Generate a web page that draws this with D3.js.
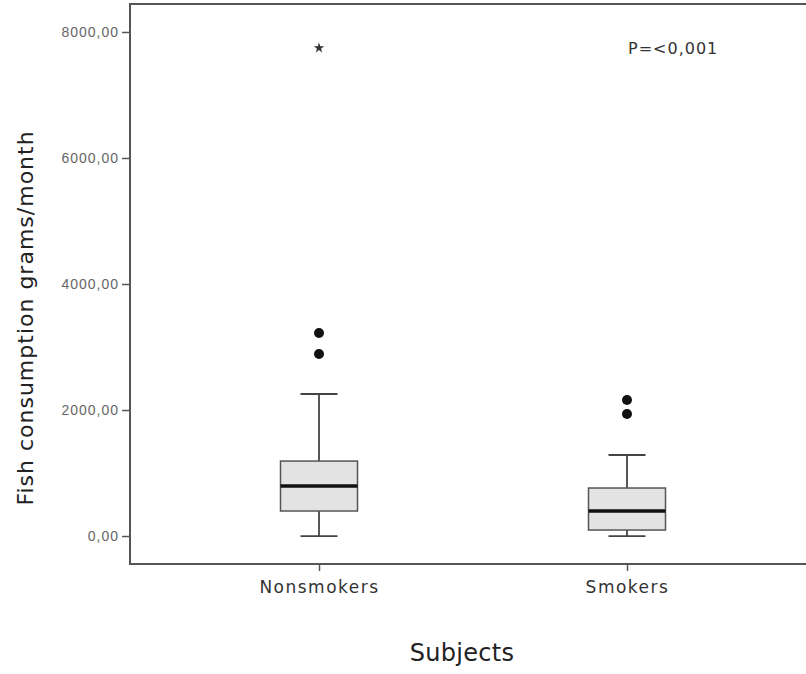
<!DOCTYPE html>
<html>
<head>
<meta charset="utf-8">
<script src="https://cdn.jsdelivr.net/npm/d3@7"></script>
<style>
  html, body { margin: 0; padding: 0; background: #fff; }
  svg { display: block; font-family: "DejaVu Sans", sans-serif; }
</style>
</head>
<body>
<svg id="chart" width="806" height="674"></svg>
<script>
// Box plot values (grams/month)
const groups = ['Nonsmokers', 'Smokers'];
const q1 = [397, 95];
const median = [794, 397];
const q3 = [1190, 762];
const whiskerLow = [0, 0];
const whiskerHigh = [2254, 1286];
const outliers = [[3222, 2889], [2159, 1937]];
const extremes = [[7746], []];
const yTicks = [0, 2000, 4000, 6000, 8000];

const frame = { left: 130, top: 4, bottom: 564, right: 812 };
const lineColor = '#555';

const svg = d3.select('#chart');

const y = d3.scaleLinear().domain([-444, 8444]).range([frame.bottom, frame.top]);
const x = d3.scalePoint().domain(groups).range([319, 627]);
const boxHalf = 38.5;
const capHalf = 18.5;

// Frame (open on the right, as in the original)
svg.append('path')
  .attr('d', `M${frame.right},${frame.top}H${frame.left}V${frame.bottom}H${frame.right}`)
  .attr('fill', 'none')
  .attr('stroke', lineColor)
  .attr('stroke-width', 2);

// Y axis
svg.append('g')
  .attr('transform', `translate(${frame.left},0)`)
  .call(d3.axisLeft(y).tickValues(yTicks).tickSize(8).tickPadding(3)
    .tickFormat((d) => d3.format('.2f')(d).replace('.', ',')))
  .call((axis) => {
    axis.select('.domain').remove();
    axis.selectAll('.tick line').attr('stroke', lineColor).attr('stroke-width', 1.5);
    axis.selectAll('.tick text')
      .attr('fill', '#666')
      .attr('font-size', '14px')
      .attr('letter-spacing', '1px')
      .attr('font-family', '"Liberation Sans", Arial, sans-serif');
  });

// X axis
svg.append('g')
  .attr('transform', `translate(0,${frame.bottom})`)
  .call(d3.axisBottom(x).tickSize(7).tickPadding(10))
  .call((axis) => {
    axis.select('.domain').remove();
    axis.selectAll('.tick line').attr('stroke', lineColor).attr('stroke-width', 1.5);
    axis.selectAll('.tick text')
      .attr('fill', '#333')
      .attr('font-size', '17px')
      .attr('letter-spacing', '1.5px')
      .attr('font-family', '"DejaVu Sans", sans-serif');
  });

// Boxes
const g = svg.append('g');
groups.forEach((name, i) => {
  const cx = x(name);
  // whiskers
  g.append('line')
    .attr('x1', cx).attr('x2', cx)
    .attr('y1', y(q3[i])).attr('y2', y(whiskerHigh[i]))
    .attr('stroke', '#444').attr('stroke-width', 1.8);
  g.append('line')
    .attr('x1', cx).attr('x2', cx)
    .attr('y1', y(q1[i])).attr('y2', y(whiskerLow[i]))
    .attr('stroke', '#444').attr('stroke-width', 1.8);
  [whiskerHigh[i], whiskerLow[i]].forEach((v) => {
    g.append('line')
      .attr('x1', cx - capHalf).attr('x2', cx + capHalf)
      .attr('y1', y(v)).attr('y2', y(v))
      .attr('stroke', '#444').attr('stroke-width', 1.8);
  });
  // box
  g.append('rect')
    .attr('x', cx - boxHalf)
    .attr('y', y(q3[i]))
    .attr('width', boxHalf * 2)
    .attr('height', y(q1[i]) - y(q3[i]))
    .attr('fill', '#e3e3e3')
    .attr('stroke', '#555')
    .attr('stroke-width', 1.5);
  // median
  g.append('line')
    .attr('x1', cx - boxHalf).attr('x2', cx + boxHalf)
    .attr('y1', y(median[i])).attr('y2', y(median[i]))
    .attr('stroke', '#111').attr('stroke-width', 3.5);
  // outliers
  outliers[i].forEach((v) => {
    g.append('circle')
      .attr('cx', cx).attr('cy', y(v)).attr('r', 5)
      .attr('fill', '#111');
  });
  // extremes
  extremes[i].forEach((v) => {
    g.append('path')
      .attr('transform', `translate(${cx},${y(v)})`)
      .attr('d', d3.symbol().type(d3.symbolStar).size(34)())
      .attr('fill', '#333');
  });
});

// P value annotation
svg.append('text')
  .attr('x', 628)
  .attr('y', 54)
  .attr('fill', '#333')
  .attr('font-size', '16px')
  .attr('letter-spacing', '1px')
  .text('P=<0,001');

// Axis titles
svg.append('text')
  .attr('x', 462)
  .attr('y', 661)
  .attr('text-anchor', 'middle')
  .attr('fill', '#222')
  .attr('font-size', '24px')
  .attr('letter-spacing', '0.3px')
  .text('Subjects');

svg.append('text')
  .attr('transform', 'translate(33,318) rotate(-90)')
  .attr('text-anchor', 'middle')
  .attr('fill', '#222')
  .attr('font-size', '22px')
  .attr('letter-spacing', '1px')
  .text('Fish consumption grams/month');
</script>
</body>
</html>
